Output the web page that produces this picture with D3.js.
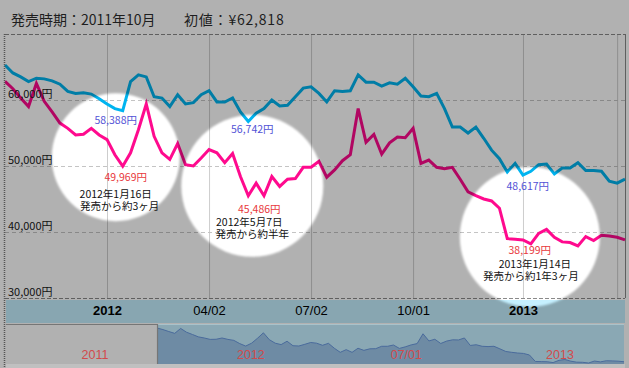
<!DOCTYPE html>
<html>
<head>
<meta charset="utf-8">
<script src="https://cdn.jsdelivr.net/npm/d3@7"></script>
<style>
  html, body { margin: 0; padding: 0; background: #b3b3b3; }
  svg { display: block; }
  .jp { font-family: "Noto Sans CJK JP", "Noto Sans", sans-serif; }
  .lat { font-family: "Liberation Sans", Arial, sans-serif; }
</style>
</head>
<body>
<div id="chart"></div>
<script>
// price history, one point per week (Mondays) from launch
const firstWeek = "2011-10-03";
const lastWeek = "2013-04-08";

// average price (blue) and lowest price (pink), yen
const avgPrice = [
  65300, 64100, 63500, 62800, 63300, 63200, 62900, 62400, 61300, 61000,
  61100, 60900, 60200, 59400, 58700, 58388, 62800, 63800, 63500, 60500,
  60300, 59000, 60800, 59400, 59600, 60800, 61400, 59700, 59700, 60300,
  58200, 56742, 58000, 58700, 60000, 59100, 59200, 60500, 61800, 62000,
  61000, 59700, 61400, 61300, 61400, 63800, 62700, 62700, 62100, 62600,
  62400, 63300, 62000, 60600, 60500, 61000, 58700, 55900, 55900, 55000,
  55900, 54200, 52400, 51100, 49100, 50400, 48617, 49200, 50200, 50300,
  48800, 49700, 49700, 50500, 49300, 49300, 49200, 47700, 47400, 48000
];
const lowPrice = [
  62818, 61700, 60300, 59000, 62500, 59800, 58200, 56500, 55700, 54700,
  54800, 55700, 54700, 54000, 51700, 49969, 52000, 55500, 59400, 54500,
  52000, 51000, 53400, 50200, 50000, 51200, 52500, 52000, 50500, 51900,
  48400, 45500, 47400, 45486, 48400, 46900, 48000, 48100, 49800, 49800,
  50700, 48300, 49400, 50800, 51700, 58700, 53600, 54800, 51800, 53500,
  54400, 54300, 55700, 50400, 50900, 49800, 49600, 49800, 48000, 46100,
  45500, 45000, 44700, 43600, 39000, 38900, 38800, 38199, 39800, 40400,
  39200, 38500, 38400, 37900, 39300, 38700, 39500, 39400, 39200, 38800
];

const yTicks = [30000, 40000, 50000, 60000];
const xTickDates = ["2012-01-02", "2012-04-02", "2012-07-02", "2012-10-01", "2013-01-07", "2013-04-01"];
const xTickLabels = ["2012", "04/02", "07/02", "10/01", "2013", ""];
const navTickDates = ["2011-07-01", "2012-01-01", "2012-07-01", "2013-01-01"];
const navTickLabels = ["2011", "2012", "07/01", "2013"];

const titleLaunch = "発売時期：2011年10月";
const titleFirst = "初値：¥62,818";

// highlighted weeks: date, avg / low price there, caption
const annDates = ["2012-01-16", "2012-05-07", "2013-01-14"];
const annAvg = [58388, 56742, 48617];
const annLow = [49969, 45486, 38199];
const annDay = ["2012年1月16日", "2012年5月7日", "2013年1月14日"];
const annSince = ["発売から約3ヶ月", "発売から約半年", "発売から約1年3ヶ月"];

// ---- layout (px) ----
const W = 629, H = 368;
const P = { left: 5, right: 625, top: 34, bottom: 298 };
// spotlight circles / label nudges relative to the annotated point
const annLayout = [
  { cdx: -7, cdy: -9,  r: 64, bdx: -7, bdy: 13, rdx: 3,  rdy: 15, tdx: -7, tdy: 32, sdx: -3 },
  { cdx: 4,  cdy: -10, r: 71, bdx: 4,  bdy: 11, rdx: 11, rdy: 17, tdx: 1,  tdy: 30, sdx: 4 },
  { cdx: -1, cdy: -7,  r: 70, bdx: -3, bdy: 15, rdx: -1, rdy: 10, tdx: 4,  tdy: 24, sdx: 0 }
];
const capGap = 12;

const parse = d3.utcParse("%Y-%m-%d");
const weeks = d3.utcMonday.range(parse(firstWeek), d3.utcDay.offset(parse(lastWeek), 1));
const rows = weeks.map((d, i) => ({ d, avg: avgPrice[i], low: lowPrice[i] }));

const x = d3.scaleUtc().domain([parse(firstWeek), parse(lastWeek)]).range([P.left, P.right]);
const y = d3.scaleLinear().domain([30000, 70000]).range([P.bottom, P.top]);

const svg = d3.select("#chart").append("svg")
  .attr("width", W).attr("height", H).attr("viewBox", `0 0 ${W} ${H}`);

// spotlight mask: everything is dimmed except inside the circles
const defs = svg.append("defs");
defs.append("filter").attr("id", "soft")
  .append("feGaussianBlur").attr("stdDeviation", 0.8);
const mask = defs.append("mask").attr("id", "spot")
  .attr("maskUnits", "userSpaceOnUse").attr("x", 0).attr("y", 0).attr("width", W).attr("height", H);
mask.append("rect").attr("width", W).attr("height", H).attr("fill", "#fff");
mask.append("g").attr("filter", "url(#soft)").selectAll("circle")
  .data(annDates).join("circle")
  .attr("cx", (d, i) => x(parse(d)) + annLayout[i].cdx)
  .attr("cy", (d, i) => y(annLow[i]) + annLayout[i].cdy)
  .attr("r", (d, i) => annLayout[i].r)
  .attr("fill", "#000");

// base layer (undimmed colours)
svg.append("rect").attr("width", W).attr("height", H).attr("fill", "#fff");
svg.append("rect").attr("x", P.left + 1).attr("y", 300).attr("width", P.right - P.left - 1).attr("height", 23)
  .attr("fill", "#c5f0ff");

// vertical grid
const gx = svg.append("g").attr("transform", `translate(0,${P.bottom})`)
  .call(d3.axisBottom(x).tickValues(xTickDates.map(parse)).tickSize(-(P.bottom - P.top)).tickFormat(""));
gx.select(".domain").remove();
gx.selectAll("line").attr("stroke", "#cdcdcd");

// horizontal dashed grid
const gy = svg.append("g").attr("transform", `translate(${P.left},0)`)
  .call(d3.axisLeft(y).tickValues(yTicks.slice(1)).tickSize(-(P.right - P.left)).tickFormat(""));
gy.select(".domain").remove();
gy.selectAll("line").attr("stroke", "#c4c4c4").attr("stroke-dasharray", "4,3");

// frame
const frame = svg.append("g").attr("fill", "none").attr("stroke", "#8a8a8a");
frame.append("line").attr("x1", P.left).attr("x2", P.right).attr("y1", P.top + 0.5).attr("y2", P.top + 0.5)
  .attr("stroke-dasharray", "4,2");
frame.append("line").attr("x1", P.left).attr("x2", P.right).attr("y1", P.bottom + 0.5).attr("y2", P.bottom + 0.5)
  .attr("stroke-dasharray", "4,2");
frame.append("line").attr("x1", P.right + 0.5).attr("x2", P.right + 0.5).attr("y1", P.top).attr("y2", P.bottom);

// price lines
const line = key => d3.line().x(d => x(d.d)).y(d => y(d[key]));
svg.append("path").datum(rows).attr("d", line("avg"))
  .attr("fill", "none").attr("stroke", "#00b4f0").attr("stroke-width", 3);
svg.append("path").datum(rows).attr("d", line("low"))
  .attr("fill", "none").attr("stroke", "#ff0a8e").attr("stroke-width", 3);

// dim overlay
svg.append("rect").attr("width", W).attr("height", H)
  .attr("fill", "#000").attr("opacity", 0.3).attr("mask", "url(#spot)");

// left dotted edge
svg.append("line").attr("x1", 4.5).attr("x2", 4.5).attr("y1", P.top).attr("y2", H)
  .attr("stroke", "#555").attr("stroke-width", 1.5).attr("stroke-dasharray", "1,1");

// title
svg.append("text").attr("class", "jp").attr("x", 11).attr("y", 25)
  .attr("font-size", 14).attr("fill", "#1e1e1e").text(titleLaunch);
svg.append("text").attr("class", "jp").attr("x", 184).attr("y", 25)
  .attr("font-size", 14).attr("fill", "#1e1e1e").attr("letter-spacing", 0.8).text(titleFirst);

// y labels
svg.append("g").selectAll("text").data(yTicks).join("text")
  .attr("class", "jp").attr("x", 8).attr("y", d => y(d) - 2)
  .attr("font-size", 11).attr("fill", "#111")
  .text(d => d3.format(",")(d) + "円");

// x axis labels in the band
const ax = svg.append("g").attr("transform", "translate(0,303)")
  .call(d3.axisBottom(x).tickValues(xTickDates.map(parse)).tickSize(0).tickPadding(3)
    .tickFormat((d, i) => xTickLabels[i]));
ax.select(".domain").remove();
ax.selectAll("text").attr("class", "lat").attr("font-size", 13).attr("fill", "#000")
  .attr("font-weight", (d, i) => /^\d{4}$/.test(xTickLabels[i]) ? "bold" : "normal");

// annotation labels
const ann = svg.append("g").attr("class", "jp").attr("font-size", 10.5).attr("text-anchor", "middle");
annDates.forEach((d, i) => {
  const L = annLayout[i], ax0 = x(parse(d)), yl = y(annLow[i]);
  ann.append("text").attr("x", ax0 + L.bdx).attr("y", y(annAvg[i]) + L.bdy)
    .attr("fill", "#5252d6").text(d3.format(",")(annAvg[i]) + "円");
  ann.append("text").attr("x", ax0 + L.rdx).attr("y", yl + L.rdy)
    .attr("fill", "#e8383c").text(d3.format(",")(annLow[i]) + "円");
  // two-line caption
  const cap = ann.append("text").attr("y", yl + L.tdy).attr("fill", "#111");
  cap.append("tspan").attr("x", ax0 + L.tdx).text(annDay[i]);
  cap.append("tspan").attr("x", ax0 + L.sdx).attr("dy", capGap).text(annSince[i]);
});

// ---- navigator ----
const N = { left: 157, right: 624, top: 324, bottom: 364 };
const xn = d3.scaleUtc().domain([parse(firstWeek), parse(lastWeek)]).range([N.left, N.right]);
const yn = d3.scaleLinear().domain(d3.extent(lowPrice)).range([N.bottom - 1, N.top + 4]);

svg.append("rect").attr("x", P.left + 1).attr("y", N.bottom).attr("width", N.right - P.left).attr("height", H - N.bottom)
  .attr("fill", "#c0c0c0");
svg.append("rect").attr("x", N.left).attr("y", N.top).attr("width", N.right - N.left).attr("height", N.bottom - N.top)
  .attr("fill", "#8aa8b4");
svg.append("path").datum(rows)
  .attr("d", d3.area().x(d => xn(d.d)).y0(N.bottom).y1(d => yn(d.low)))
  .attr("fill", "#6e8ba4");
svg.append("path").datum(rows)
  .attr("d", d3.line().x(d => xn(d.d)).y(d => yn(d.low)))
  .attr("fill", "none").attr("stroke", "#4a6b9c").attr("stroke-width", 1);
svg.append("line").attr("x1", N.left).attr("x2", N.right).attr("y1", N.top + 0.5).attr("y2", N.top + 0.5)
  .attr("stroke", "#a9c2ca");
svg.append("path")
  .attr("d", `M${P.left + 1},${N.top + 0.5}H${N.left + 0.5}V${N.bottom}`)
  .attr("fill", "none").attr("stroke", "#767676").attr("stroke-width", 1.2);

svg.append("g").selectAll("text").data(navTickDates).join("text")
  .attr("class", "lat").attr("x", d => xn(parse(d)) + 4).attr("y", 359)
  .attr("font-size", 12.5).attr("fill", "#d24a4c")
  .text((d, i) => navTickLabels[i]);
</script>
</body>
</html>
